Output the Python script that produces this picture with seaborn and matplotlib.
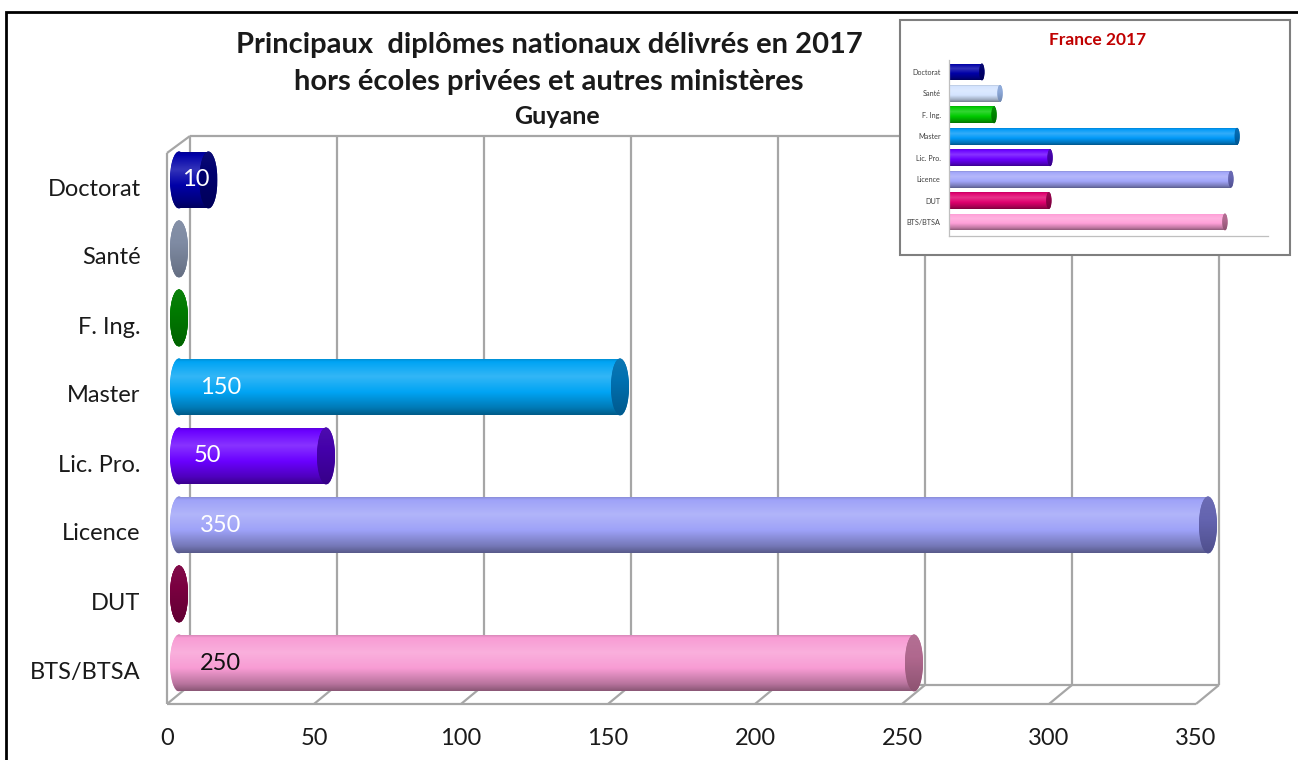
import numpy as np
import pandas as pd
import matplotlib
matplotlib.use("Agg")
import matplotlib.pyplot as plt
import matplotlib.transforms as mtransforms
import seaborn as sns
from matplotlib.patches import Ellipse, Rectangle
from matplotlib.colors import to_rgb

# ---------------- data ----------------
categories = ["Doctorat", "Santé", "F. Ing.", "Master", "Lic. Pro.", "Licence", "DUT", "BTS/BTSA"]
guyane_values = [10, 0, 0, 150, 50, 350, 0, 250]
france_values = [16500, 25600, 22600, 144500, 50700, 141400, 50100, 138400]
main_ticks = [0, 50, 100, 150, 200, 250, 300, 350]
inset_ticks = [0, 20000, 40000, 60000, 80000, 100000, 120000, 140000, 160000]

title_lines = ["Principaux  diplômes nationaux délivrés en 2017",
               "hors écoles privées et autres ministères"]
subtitle = "Guyane"
inset_title = "France 2017"

# ---------------- styles ----------------
main_body = ["#0000A8", "#A4B0C8", "#00A000", "#00A4F4", "#6A00FF", "#9EA2F8", "#A00050", "#F89CD4"]
main_caps = ["#00006E", "#7F8BA3", "#007A00", "#0070B0", "#4400AA", "#6464B0", "#7A0040", "#B0688E"]
main_label_colors = ["white", "white", "white", "white", "white", "white", "white", "#111111"]
inset_body = ["#0000A8", "#D4E4FF", "#00CC00", "#0099F8", "#6A00FF", "#A2A6FA", "#E0006E", "#FFA0D8"]
inset_caps = ["#00006E", "#8CA8D8", "#008800", "#0068B0", "#4400AA", "#6464B0", "#900048", "#B0688E"]

sns.set_style("white")
plt.rcParams["font.family"] = ["Lato", "DejaVu Sans"]

W, H = 1298, 760
fig = plt.figure(figsize=(W / 100, H / 100), dpi=100)
fig.patch.set_facecolor("white")

# outer frame (left/top visible)
fig.patches.append(Rectangle((6 / W, -0.05), 1.2, 1 - 12 / H + 0.05, transform=fig.transFigure,
                             facecolor="none", edgecolor="black", lw=2, zorder=0.5))


def gradient(base, profile_t, profile_f, n=80):
    rgb = np.array(to_rgb(base))
    t = np.linspace(0, 1, n)
    f = np.interp(t, profile_t, profile_f)[:, None]
    out = np.where(f >= 1, rgb + (1 - rgb) * (f - 1), rgb * f)
    return np.clip(out, 0, 1)[:, None, :]


BODY_T = [0, 0.06, 0.32, 0.6, 0.88, 1.0]
BODY_F = [0.84, 1.0, 1.2, 1.0, 0.74, 0.56]
CAP_T = [0, 0.4, 1.0]
CAP_F = [1.05, 1.0, 0.8]


def shade(ax, artist, base, x0, x1, y0, y1, pt, pf, z):
    img = gradient(base, pt, pf)
    im = ax.imshow(img, extent=(x0, x1, y1, y0), origin="upper", aspect="auto",
                   zorder=z, interpolation="bilinear")
    im.set_clip_path(artist)


def cylinders(ax, values, bodies, caps, cap_w):
    for cont, v, body, cap in zip(ax.containers, values, bodies, caps):
        patch = cont.patches[0]
        patch.set_linewidth(0)
        patch.set_zorder(2)
        y0 = patch.get_y()
        h = patch.get_height()
        yc = y0 + h / 2
        left = Ellipse((0, yc), cap_w, h, facecolor=body, edgecolor="none", zorder=1.9)
        ax.add_patch(left)
        shade(ax, left, body, -cap_w / 2, cap_w / 2, y0, y0 + h, BODY_T, BODY_F, 1.95)
        if v > 0:
            shade(ax, patch, body, 0, v, y0, y0 + h, BODY_T, BODY_F, 2.1)
        end = Ellipse((v, yc), cap_w, h, facecolor=cap, edgecolor="none", zorder=3)
        ax.add_patch(end)
        shade(ax, end, cap, v - cap_w / 2, v + cap_w / 2, y0, y0 + h, CAP_T, CAP_F, 3.1)


# ---------------- main chart ----------------
PX = 2.94                      # pixels per unit
X0_PX = 179                    # pixel of value 0 (bar axis)
AX_L, AX_R = 160, 1230
AX_T, AX_B = 136, 704
FRONT = -12 / PX               # front floor offset (data units)
BACK = 11 / PX                 # back wall offset
Y_STEP = 69
Y_FIRST = 180
ylim_top = -(Y_FIRST - AX_T) / Y_STEP
ylim_bot = (AX_B - Y_FIRST) / Y_STEP
y_back_floor = (685 - Y_FIRST) / Y_STEP
y_side_top = (153 - Y_FIRST) / Y_STEP

ax = fig.add_axes([AX_L / W, 1 - AX_B / H, (AX_R - AX_L) / W, (AX_B - AX_T) / H])
df = pd.DataFrame({"cat": categories, "val": guyane_values})
sns.barplot(data=df, x="val", y="cat", hue="cat", palette=main_body, orient="h",
            width=0.826, legend=False, ax=ax, linewidth=0, saturation=1)
cylinders(ax, guyane_values, main_body, main_caps, 18 / PX)

for v, c, col in zip(guyane_values, range(len(categories)), main_label_colors):
    if v > 0:
        ax.text(min(7.0, 0.1 * v), c, str(v), color=col, fontsize=17, ha="left",
                va="center", zorder=5)

grid_kw = dict(color="#A6A6A6", lw=1.6, clip_on=False, zorder=0.8, solid_capstyle="butt")
# back wall gridlines + edges
for t in main_ticks:
    ax.plot([t + BACK, t + BACK], [ylim_top, y_back_floor], **grid_kw)
    ax.plot([t + FRONT, t + BACK], [ylim_bot, y_back_floor], **grid_kw)
ax.plot([main_ticks[0] + BACK, main_ticks[-1] + BACK], [ylim_top, ylim_top], **grid_kw)
ax.plot([main_ticks[0] + BACK, main_ticks[-1] + BACK], [y_back_floor, y_back_floor], **grid_kw)
ax.plot([main_ticks[0] + FRONT, main_ticks[-1] + FRONT], [ylim_bot, ylim_bot], **grid_kw)
ax.plot([main_ticks[0] + FRONT, main_ticks[0] + FRONT], [y_side_top, ylim_bot], **grid_kw)
ax.plot([main_ticks[0] + FRONT, main_ticks[0] + BACK], [y_side_top, ylim_top], **grid_kw)

ax.set_xticks([t + FRONT for t in main_ticks])
ax.set_xticklabels([str(t) for t in main_ticks], fontsize=17, color="#1a1a1a")
ax.tick_params(axis="x", length=7, width=1.6, color="#A6A6A6", pad=10, direction="out")
ax.tick_params(axis="y", length=0, pad=14, labelsize=17, labelcolor="#1a1a1a")
shift = mtransforms.ScaledTranslation(0, -0.07, fig.dpi_scale_trans)
for lab in ax.get_yticklabels():
    lab.set_transform(lab.get_transform() + shift)
ax.set_xlabel("")
ax.set_ylabel("")
for s in ax.spines.values():
    s.set_visible(False)
ax.set_xlim((AX_L - X0_PX) / PX, (AX_R - X0_PX) / PX)
ax.set_ylim(ylim_bot, ylim_top)
ax.set_facecolor("none")

# titles
fig.text(549 / W, 1 - 45 / H, title_lines[0], ha="center", va="center", fontsize=21,
         fontweight="bold", color="#1a1a1a")
fig.text(549 / W, 1 - 82 / H, title_lines[1], ha="center", va="center", fontsize=21,
         fontweight="bold", color="#1a1a1a")
fig.text(557 / W, 1 - 117 / H, subtitle, ha="center", va="center", fontsize=18,
         fontweight="bold", color="#1a1a1a")

# ---------------- inset ----------------
fig.patches.append(Rectangle((900 / W, 1 - 255 / H), 390 / W, 235 / H, transform=fig.transFigure,
                             facecolor="white", edgecolor="#7F7F7F", lw=1.5, zorder=1))
IN_L, IN_R, IN_T, IN_B = 949, 1268, 60, 236
in_first, in_step = 72, (222 - 72) / 7
axi = fig.add_axes([IN_L / W, 1 - IN_B / H, (IN_R - IN_L) / W, (IN_B - IN_T) / H], zorder=2)
dfi = pd.DataFrame({"cat": categories, "val": france_values})
sns.barplot(data=dfi, x="val", y="cat", hue="cat", palette=inset_body, orient="h",
            width=0.79, legend=False, ax=axi, linewidth=0, saturation=1)
cylinders(axi, france_values, inset_body, inset_caps, 2600)
axi.set_xticks(inset_ticks)
axi.set_xticklabels([])
axi.tick_params(axis="x", length=3, width=0.8, color="#A6A6A6", direction="out")
axi.tick_params(axis="y", length=0, pad=6, labelsize=5.2, labelcolor="#404040")
axi.set_xlabel("")
axi.set_ylabel("")
for k, s in axi.spines.items():
    s.set_visible(k in ("left", "bottom"))
    s.set_color("#BFBFBF")
    s.set_linewidth(0.9)
axi.set_xlim(0, inset_ticks[-1])
axi.set_ylim(7 + (IN_B - 222) / in_step, -(in_first - IN_T) / in_step)
axi.set_facecolor("none")
fig.text(1098 / W, 1 - 40 / H, inset_title, ha="center", va="center", fontsize=12.5,
         fontweight="bold", color="#C00000", zorder=3)

fig.savefig("out.png", dpi=100)
